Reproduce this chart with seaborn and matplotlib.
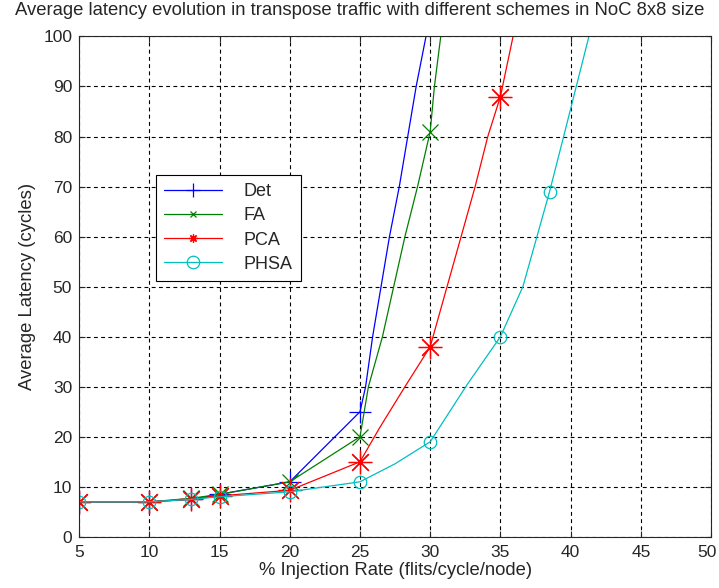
import seaborn as sns
import numpy as np
import pandas as pd
import matplotlib
matplotlib.use('Agg')
import matplotlib.pyplot as plt
from matplotlib.lines import Line2D
from matplotlib.transforms import ScaledTranslation

# ---------------- data
schemes = ['Det', 'FA', 'PCA', 'PHSA']

# measured points (markers)
det_x = [5, 10, 13, 15, 20, 25]
det_y = [7, 7, 7.5, 8.5, 11, 25]
fa_x = [5, 10, 13, 15, 20, 25, 30]
fa_y = [7, 7, 7.7, 8.5, 11, 20, 81]
pca_x = [5, 10, 13, 15, 20, 25, 30, 35]
pca_y = [7, 7, 7.5, 8.2, 9.3, 15, 38, 88]
phsa_x = [5, 10, 13, 15, 20, 25, 30, 35, 38.5]
phsa_y = [7, 7, 7.5, 8, 9, 11, 19, 40, 69]

# extra points
det_curve_x = [25.4, 25.9, 26.5, 27.1, 27.8, 28.4, 29.0, 29.7, 30.0]
det_curve_y = [30, 40, 50, 60, 70, 80, 90, 100, 104]
fa_curve_x = [25.6, 26.6, 27.4, 28.2, 29.1, 30.3, 30.75, 31.0]
fa_curve_y = [30, 40, 50, 60, 70, 90, 100, 105]
pca_curve_x = [26.4, 28.2, 31.2, 32.2, 33.2, 34.1, 35.9, 36.2]
pca_curve_y = [21.8, 30, 50, 60, 70, 80, 100, 104]
phsa_curve_x = [27.5, 32.6, 36.6, 37.6, 39.5, 40.4, 41.3, 41.6]
phsa_curve_y = [14.6, 30.3, 50, 60, 80, 90, 100, 104]

colors = ['#0000ff', '#008000', '#ff0000', '#00bfbf']

sns.set_style('ticks')
plt.rcParams['font.family'] = ['Liberation Sans', 'DejaVu Sans']
plt.rcParams['font.size'] = 12.5


def merge(mx, my, cx, cy):
  pts = sorted(set(zip(mx, my)) | set(zip(cx, cy)))
  return pd.DataFrame(pts, columns=['x', 'y'])


if __name__ == '__main__':

  fig = plt.figure(figsize=(7.19, 5.88), dpi=100)
  ax = fig.add_axes([0.110, 0.087, 0.879, 0.851])

  series = [(det_x, det_y, det_curve_x, det_curve_y),
            (fa_x, fa_y, fa_curve_x, fa_curve_y),
            (pca_x, pca_y, pca_curve_x, pca_curve_y),
            (phsa_x, phsa_y, phsa_curve_x, phsa_curve_y)]
  markers = ['+', 'x', (8, 2, 0), 'o']
  msizes = [16, 11, 17, 9]
  leg_msizes = [9.5, 5, 6, 9]

  for (mx, my, cx, cy), c, m, ms in zip(series, colors, markers, msizes):
    df = merge(mx, my, cx, cy)
    sns.lineplot(data=df, x='x', y='y', color=c, lw=0.9, sort=False,
                 estimator=None, ax=ax, legend=False)
    ax.plot(mx, my, ls='none', marker=m, ms=ms, mec=c, mfc='none', mew=0.9,
            color=c)

  ax.set_xlim(5, 50)
  ax.set_ylim(0, 100)
  ax.set_xticks(np.arange(5, 51, 5))
  ax.set_yticks(np.arange(0, 101, 10))
  ax.grid(True, color='k', ls=(0, (3.5, 3)), lw=0.8)
  ax.tick_params(direction='in', top=True, right=True, length=4,
                 labelsize=12.5, pad=5)
  ax.tick_params(axis='x', pad=6)
  for s in ax.spines.values():
    s.set_linewidth(0.8)
    s.set_visible(True)

  # keep the last x tick label inside the figure edge
  last = ax.get_xticklabels()[-1]
  last.set_transform(last.get_transform() +
                     ScaledTranslation(-3 / 72, 0, fig.dpi_scale_trans))

  fig.suptitle('Average latency evolution in transpose traffic with different schemes in NoC 8x8 size',
               x=0.5, y=0.997, va='top', fontsize=13.3)
  ax.set_xlabel('% Injection Rate (flits/cycle/node)', fontsize=13.3, labelpad=1)
  ax.set_ylabel('Average Latency (cycles)', fontsize=13.3, labelpad=5)

  handles = [Line2D([], [], color=c, lw=0.9, marker=m, ms=ms, mec=c,
                    mfc=(c if m == (8, 2, 0) else 'none'), mew=0.9)
             for c, m, ms in zip(colors, markers, leg_msizes)]
  leg = ax.legend(handles, schemes, loc='upper left',
                  bbox_to_anchor=(156 / 719, 1 - 175 / 588),
                  bbox_transform=fig.transFigure, fontsize=13,
                  fancybox=False, framealpha=1, edgecolor='k',
                  handlelength=3.2, handletextpad=1.2, labelspacing=0.4,
                  borderpad=0.45, borderaxespad=0)
  leg.get_frame().set_linewidth(0.8)

  fig.savefig('out.png', dpi=100)
